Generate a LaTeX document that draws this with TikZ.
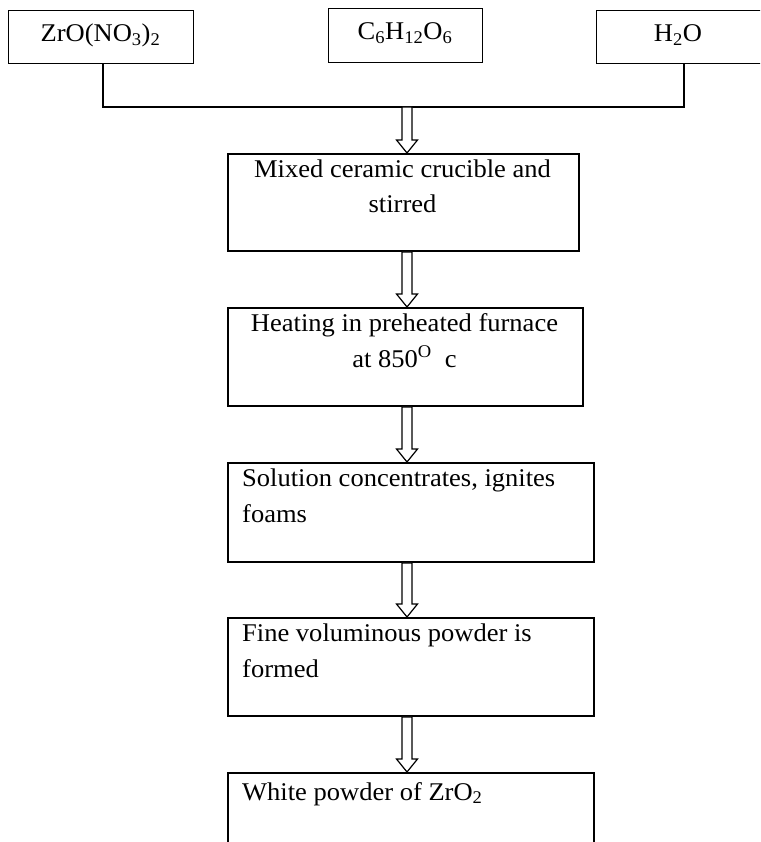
\documentclass[tikz,border=0pt]{standalone}
\usepackage{fontspec}
\setmainfont{Liberation Serif}[FakeStretch=1.04]
\usetikzlibrary{calc}
\newcommand\hollowarrow[2]{%
  \path[harrow] ($#1+(-5pt,0)$) -- ($(#2.north -| ax)+(-5pt,13pt)$)
    -- ($(#2.north -| ax)+(-10.5pt,13pt)$) -- (#2.north -| ax)
    -- ($(#2.north -| ax)+(10.5pt,13pt)$) -- ($(#2.north -| ax)+(5pt,13pt)$)
    -- ($#1+(5pt,0)$) -- cycle;}
\begin{document}
\begin{tikzpicture}[x=1pt,y=-1pt,
  topbox/.style={draw, line width=1.3pt, inner sep=0pt, anchor=north west},
  procbox/.style={draw, line width=1.9pt, inner sep=0pt, anchor=north west, minimum height=97pt},
  txt/.style={inner sep=0pt, font=\fontsize{25.5}{35.5}\selectfont},
  link/.style={draw, line width=1.3pt},
  harrow/.style={draw, line width=1.2pt, fill=white, line join=miter}]
\useasboundingbox (0,0) rectangle (760,842);
\clip (0,0) rectangle (760,842);
\coordinate (ax) at (407,0);
% top boxes
\node[topbox, minimum width=185pt, minimum height=53pt] (z) at (8,10) {};
\node[topbox, minimum width=154pt, minimum height=54pt] (c) at (328,8) {};
\node[topbox, minimum width=184pt, minimum height=53pt] (h) at (596,10) {};
\node[txt, anchor=base] (zt) at (100.5,42) {ZrO(NO\textsubscript{3})\textsubscript{2}};
\node[txt, anchor=base] (ct) at (405,40) {C\textsubscript{6}H\textsubscript{12}O\textsubscript{6}};
\node[txt, anchor=base] (ht) at (678,42) {H\textsubscript{2}O};
% junction
\coordinate (j1) at (103,107);
\coordinate (j2) at (684,107);
\draw[link] (z.south -| j1) -- (j1) -- (j2) -- (h.south -| j2);
% process boxes
\node[procbox, minimum width=351pt] (m) at (227,153) {};
\node[procbox, minimum width=355pt, minimum height=98pt] (p) at (227,307) {};
\node[procbox, minimum width=366pt, minimum height=99pt] (s) at (227,462) {};
\node[procbox, minimum width=366pt, minimum height=98pt] (f) at (227,617) {};
\node[procbox, minimum width=366pt, minimum height=140pt] (w) at (227,772) {};
\node[txt, anchor=base, align=center] (mt) at (402.5,213) {Mixed ceramic crucible and\\stirred};
\node[txt, anchor=base, align=center] (pt) at (404.5,367) {Heating in preheated furnace\\at 850\textsuperscript{O}\ \ c};
\node[txt, anchor=base west, align=left] (st) at (242,522) {Solution concentrates, ignites\\foams};
\node[txt, anchor=base west, align=left] (ft) at (242,677) {Fine voluminous powder is\\formed};
\node[txt, anchor=base west, align=left] (wt) at (242,800) {White powder of ZrO\textsubscript{2}};
% hollow arrows
\hollowarrow{(j1 -| ax)}{m}
\hollowarrow{(m.south -| ax)}{p}
\hollowarrow{(p.south -| ax)}{s}
\hollowarrow{(s.south -| ax)}{f}
\hollowarrow{(f.south -| ax)}{w}
\end{tikzpicture}
\end{document}
